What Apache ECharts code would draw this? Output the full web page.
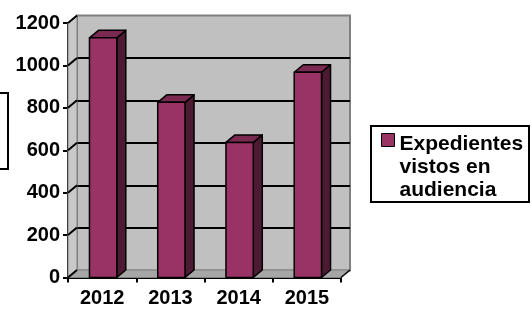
<!DOCTYPE html>
<html><head><meta charset="utf-8">
<script src="https://cdn.jsdelivr.net/npm/echarts@6/dist/echarts.min.js"></script>
<style>html,body{margin:0;padding:0;background:#fff}#c{width:532px;height:309px}</style>
</head><body><div id="c"></div>
<script>
const categories = ['2012', '2013', '2014', '2015'];
const values = [1130, 826, 637, 968];
const yTicks = [0, 200, 400, 600, 800, 1000, 1200];
const seriesName = 'Expedientes\nvistos en\naudiencia';

const DX = 9, DY = -7.5;
const FONT = '"Liberation Sans", Arial, sans-serif';
const chart = echarts.init(document.getElementById('c'), null, {renderer: 'canvas'});

function renderBar(params, api) {
  const i = api.value(0), v = api.value(1);
  const top = api.coord([i, v]);
  const base = api.coord([i, 0]);
  const bw = api.size([1, 0])[0] * 0.4;
  const x0 = top[0] - bw / 2 + 1, x1 = x0 + bw;
  const yt = top[1], yb = base[1];
  const st = (f) => ({fill: f, stroke: '#000', lineWidth: 1.5, lineJoin: 'round'});
  return {type: 'group', children: [
    {type: 'polygon', shape: {points: [[x1, yt], [x1 + DX, yt + DY], [x1 + DX, yb + DY], [x1, yb]]}, style: st('#4d1a33')},
    {type: 'polygon', shape: {points: [[x0, yt], [x0 + DX, yt + DY], [x1 + DX, yt + DY], [x1, yt]]}, style: st('#7a2950')},
    {type: 'rect', shape: {x: x0, y: yt, width: bw, height: yb - yt}, style: st('#993366')}
  ]};
}

function renderWall(params, api) {
  const v = api.value(1);
  const half = api.size([1, 0])[0] / 2;
  const p = api.coord([0, v]);
  const xl = p[0] - half;
  const children = [];
  if (params.dataIndex === 0) {
    const b = api.coord([0, 0]);
    const t = api.coord([0, yTicks[yTicks.length - 1]]);
    const r = api.coord([categories.length - 1, 0])[0] + half;
    children.push({type: 'polygon', shape: {points: [[xl, t[1]], [xl + DX, t[1] + DY], [xl + DX, b[1] + DY], [xl, b[1]]]},
      style: {fill: '#c8c8c8', stroke: '#808080', lineWidth: 1}});
    children.push({type: 'polygon', shape: {points: [[xl, b[1]], [xl + DX, b[1] + DY], [r + DX, b[1] + DY], [r, b[1]]]},
      style: {fill: '#a6a6a6', stroke: '#808080', lineWidth: 1}});
    children.push({type: 'line', shape: {x1: r, y1: b[1], x2: r + DX, y2: b[1] + DY}, style: {stroke: '#000', lineWidth: 1.5}});
  }
  children.push({type: 'line', shape: {x1: xl, y1: p[1], x2: xl + DX, y2: p[1] + DY}, style: {stroke: '#000', lineWidth: 2}});
  return {type: 'group', children: children};
}

const labelStyle = {fontFamily: FONT, fontWeight: 'bold', fontSize: 20, color: '#000'};

chart.setOption({
  animation: false,
  backgroundColor: '#fff',
  grid: [
    {left: 77, right: 182, top: 15.5, bottom: 38.5, show: true, backgroundColor: '#c0c0c0', borderColor: '#808080', borderWidth: 2, z: 0},
    {left: 68, right: 191, top: 23, bottom: 31.5}
  ],
  xAxis: [
    {gridIndex: 0, type: 'category', data: categories, show: false},
    {gridIndex: 1, type: 'category', data: categories,
      axisLine: {lineStyle: {color: '#000', width: 2}},
      axisTick: {show: true, length: 5, lineStyle: {color: '#000', width: 2}},
      axisLabel: Object.assign({margin: 11}, labelStyle)}
  ],
  yAxis: [
    {gridIndex: 0, type: 'value', min: 0, max: 1200, interval: 200,
      axisLine: {show: false}, axisTick: {show: false}, axisLabel: {show: false},
      splitLine: {show: true, lineStyle: {width: 2, color: ['rgba(0,0,0,0)', '#000', '#000', '#000', '#000', '#000', 'rgba(0,0,0,0)']}}},
    {gridIndex: 1, type: 'value', min: 0, max: 1200, interval: 200,
      axisLine: {show: true, lineStyle: {color: '#000', width: 2}},
      axisTick: {show: true, length: 5, lineStyle: {color: '#000', width: 2}},
      splitLine: {show: false},
      axisLabel: Object.assign({margin: 8, formatter: (v) => String(v)}, labelStyle)}
  ],
  legend: {
    data: [seriesName], left: 381, top: 87, padding: 0, itemGap: 0,
    itemWidth: 13, itemHeight: 13, icon: 'rect',
    itemStyle: {borderColor: '#000', borderWidth: 1},
    formatter: (name) => '{s| }\n{s| }\n' + name.split('\n').map(t => '{a|' + t + '}').join('\n'),
    textStyle: {
      fontFamily: FONT, fontWeight: 'bold', fontSize: 21, color: '#000',
      rich: {
        s: {fontSize: 10, lineHeight: 27},
        a: {fontFamily: FONT, fontWeight: 'bold', fontSize: 21, lineHeight: 23, color: '#000'}
      }
    }
  },
  graphic: [
    {type: 'rect', shape: {x: 371, y: 126, width: 158, height: 76}, style: {fill: '#fff', stroke: '#000', lineWidth: 2}, z: 0},
    {type: 'rect', shape: {x: -12, y: 93, width: 20, height: 76}, style: {fill: '#fff', stroke: '#000', lineWidth: 2}, z: 0}
  ],
  series: [
    {name: 'walls', type: 'custom', xAxisIndex: 1, yAxisIndex: 1, z: 1, silent: true,
      data: yTicks.map(v => [0, v]), renderItem: renderWall},
    {name: seriesName, type: 'custom', xAxisIndex: 1, yAxisIndex: 1, z: 3,
      itemStyle: {color: '#993366'},
      data: values.map((v, i) => [i, v]), encode: {x: 0, y: 1}, renderItem: renderBar}
  ]
});
</script>
</body></html>
